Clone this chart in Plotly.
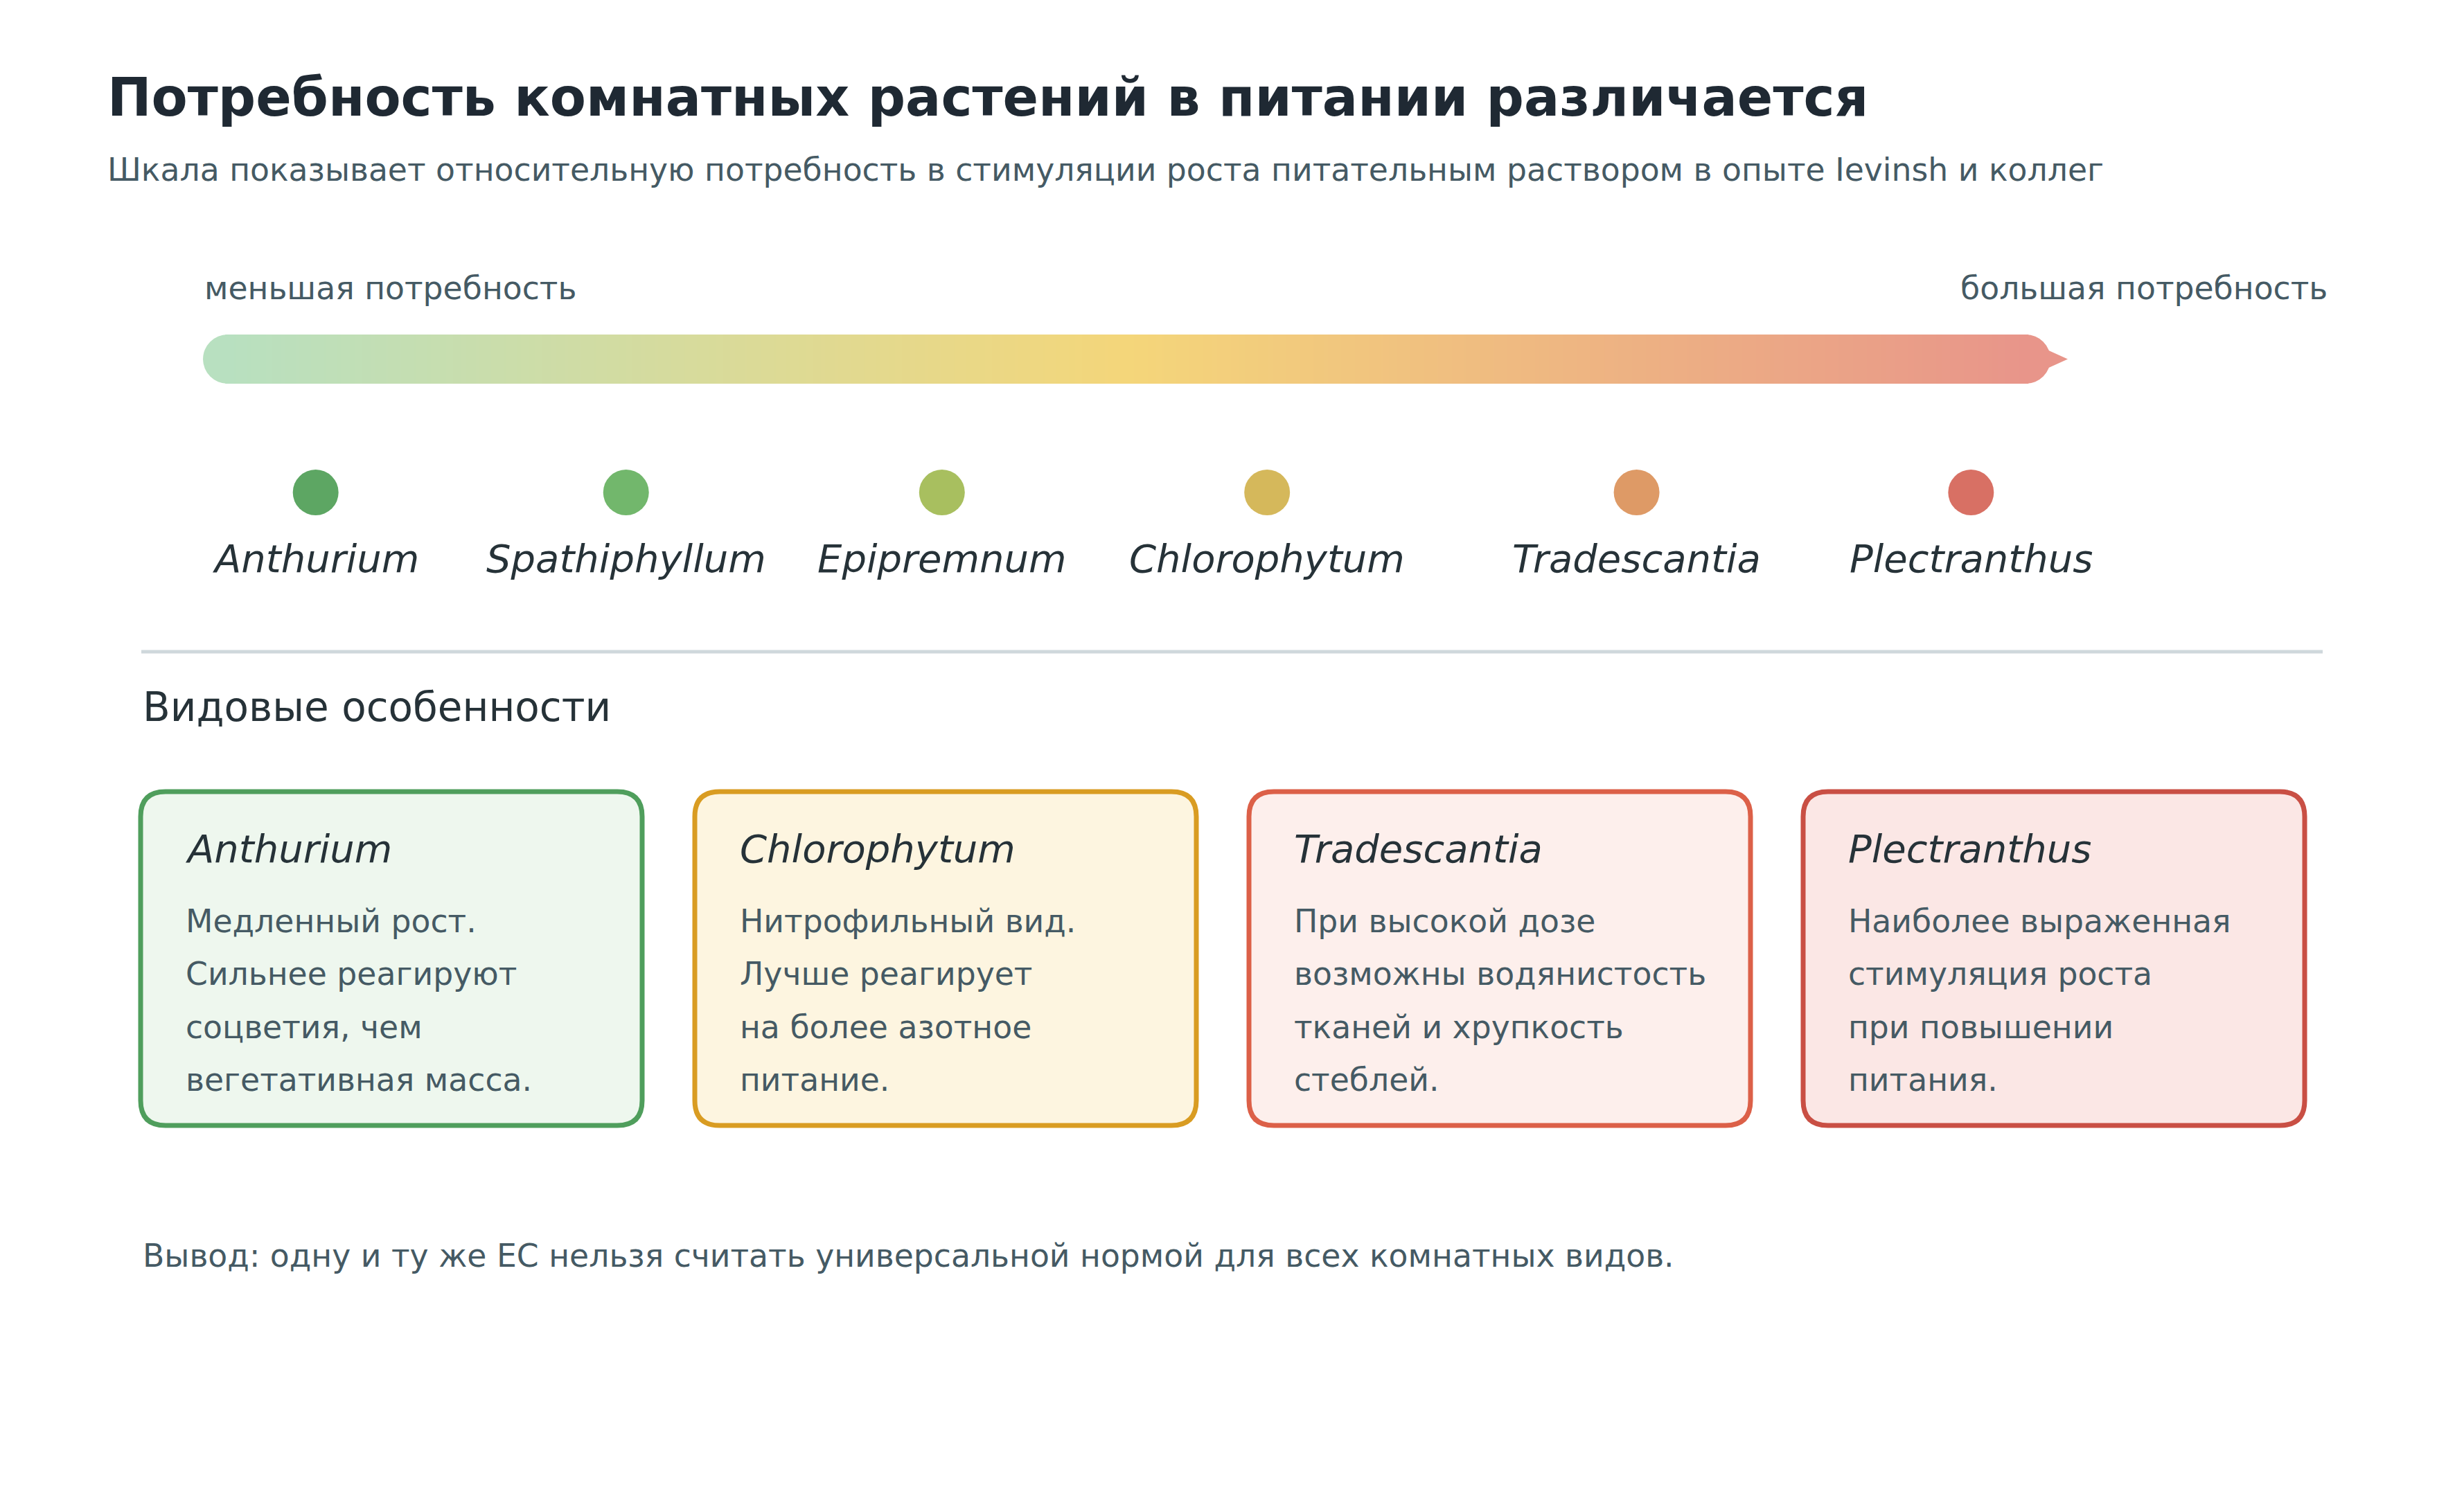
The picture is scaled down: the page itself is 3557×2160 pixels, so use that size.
import numpy as np
import plotly.graph_objects as go

# ---- data ----
species = ['Anthurium', 'Spathiphyllum', 'Epipremnum', 'Chlorophytum', 'Tradescantia', 'Plectranthus']
need_score = [6.1, 22.9, 40.0, 57.6, 77.6, 95.7]   # relative position on the need scale, 0..100
dot_colors = ['#5da663', '#72b76c', '#a8bf5f', '#d5b85b', '#de9a66', '#d87064']

card_species = ['Anthurium', 'Chlorophytum', 'Tradescantia', 'Plectranthus']
card_lines = [
    ['Медленный рост.', 'Сильнее реагируют', 'соцветия, чем', 'вегетативная масса.'],
    ['Нитрофильный вид.', 'Лучше реагирует', 'на более азотное', 'питание.'],
    ['При высокой дозе', 'возможны водянистость', 'тканей и хрупкость', 'стеблей.'],
    ['Наиболее выраженная', 'стимуляция роста', 'при повышении', 'питания.'],
]
card_border = ['#4f9e5c', '#d99c22', '#dc6048', '#c94f44']
card_fill = ['#eef7ee', '#fdf5e0', '#fdefec', '#fbe7e5']

title = 'Потребность комнатных растений в питании различается'
subtitle = 'Шкала показывает относительную потребность в стимуляции роста питательным раствором в опыте Ievinsh и коллег'
low_label = 'меньшая потребность'
high_label = 'большая потребность'
section_title = 'Видовые особенности'
footer = 'Вывод: одну и ту же EC нельзя считать универсальной нормой для всех комнатных видов.'

# ---- layout constants (page pixels) ----
W, H = 3557, 2160
OFF = 8          # page body margin
FONT = 'DejaVu Sans'
DARK = '#1f2933'
INK = '#263238'
MUTED = '#455a64'
SMALL = 45.7

BAR_L, BAR_R = 293, 2960
BAR_TOP, BAR_BOT = 483, 554
unit = (BAR_R - BAR_L) / 100.0
cap = (BAR_BOT - BAR_TOP) / 2 / unit


def px(x):
    return (x - OFF) / W


def py(y):
    return 1 - (y - OFF) / H


fig = go.Figure()

# gradient bar
t = np.linspace(0, 1, 400)
fig.add_trace(go.Heatmap(
    x=np.linspace(cap, 100 - cap, 400), y=[BAR_TOP + 17.75, BAR_BOT - 17.75], z=[t, t],
    colorscale=[[0, '#b8e0c0'], [0.5, '#f4d67a'], [1, '#e8958a']],
    zsmooth='best', showscale=False, hoverinfo='skip'))

shapes = []
shapes.append(dict(type='circle', xref='x', yref='y', x0=0, x1=2 * cap, y0=BAR_TOP, y1=BAR_BOT,
                   fillcolor='#b8e0c0', line_width=0, layer='below'))
shapes.append(dict(type='circle', xref='x', yref='y', x0=100 - 2 * cap, x1=100, y0=BAR_TOP, y1=BAR_BOT,
                   fillcolor='#e8958a', line_width=0, layer='below'))
tip0 = (2953 - BAR_L) / unit
tip1 = (2985 - BAR_L) / unit
shapes.append(dict(type='path', xref='x', yref='y',
                   path=f'M {tip0},{504} L {tip1},{518.5} L {tip0},{533} Z',
                   fillcolor='#e8958a', line_width=0, layer='below'))

# species dots
fig.add_trace(go.Scatter(
    x=need_score, y=[711] * len(species), mode='markers',
    marker=dict(size=66, color=dot_colors, line_width=0),
    hoverinfo='skip', showlegend=False))

annotations = []


def txt(x, y, s, size, color, weight='normal', style='normal', anchor='left', xref='paper'):
    annotations.append(dict(
        xref=xref, yref='paper' if xref == 'paper' else 'y',
        x=px(x) if xref == 'paper' else x,
        y=py(y) if xref == 'paper' else y,
        text=s, showarrow=False, xanchor=anchor, yanchor='middle',
        font=dict(family=FONT, size=size, color=color, weight=weight, style=style)))


txt(153, 140, title, 76, DARK, weight='bold')
txt(153, 246, subtitle, SMALL, MUTED)
txt(BAR_L, 416, low_label, SMALL, MUTED)
txt(3362, 416, high_label, SMALL, MUTED, anchor='right')

for name, score in zip(species, need_score):
    txt(score, 806, name, 56, INK, style='italic', anchor='center', xref='x')

# divider
shapes.append(dict(type='line', xref='paper', yref='paper', x0=px(204), x1=px(3353), y0=py(941), y1=py(941),
                   line=dict(color='#cfd8dc', width=5)))

txt(204, 1021, section_title, 58, INK)

# cards
CARD_X0, CARD_PITCH, CARD_W = 203, 800, 724
CARD_TOP, CARD_BOT, R = 1143, 1625, 36
for i, name in enumerate(card_species):
    x0 = CARD_X0 + i * CARD_PITCH
    x1 = x0 + CARD_W
    pts = [
        (x0 + R, CARD_TOP), (x1 - R, CARD_TOP), ('Q', x1, CARD_TOP, x1, CARD_TOP + R),
        (x1, CARD_BOT - R), ('Q', x1, CARD_BOT, x1 - R, CARD_BOT),
        (x0 + R, CARD_BOT), ('Q', x0, CARD_BOT, x0, CARD_BOT - R),
        (x0, CARD_TOP + R), ('Q', x0, CARD_TOP, x0 + R, CARD_TOP),
    ]
    path = f'M {px(pts[0][0])},{py(pts[0][1])}'
    for p in pts[1:]:
        if p[0] == 'Q':
            path += f' Q {px(p[1])},{py(p[2])} {px(p[3])},{py(p[4])}'
        else:
            path += f' L {px(p[0])},{py(p[1])}'
    path += ' Z'
    shapes.append(dict(type='path', xref='paper', yref='paper', path=path,
                       fillcolor=card_fill[i], line=dict(color=card_border[i], width=7), layer='below'))
    txt(x0 + 63, 1225, name, 56, INK, style='italic')
    for j, line in enumerate(card_lines[i]):
        txt(x0 + 63, 1330 + j * 76.5, line, SMALL, MUTED)

txt(204, 1813, footer, SMALL, MUTED)

fig.update_layout(
    width=W, height=H, margin=dict(l=0, r=0, t=0, b=0),
    paper_bgcolor='white', plot_bgcolor='white', showlegend=False,
    shapes=shapes, annotations=annotations,
    xaxis=dict(range=[(OFF - BAR_L) / unit, (W + OFF - BAR_L) / unit], visible=False, fixedrange=True),
    yaxis=dict(range=[H + OFF, OFF], visible=False, fixedrange=True),
)

fig.write_html('out.html')
